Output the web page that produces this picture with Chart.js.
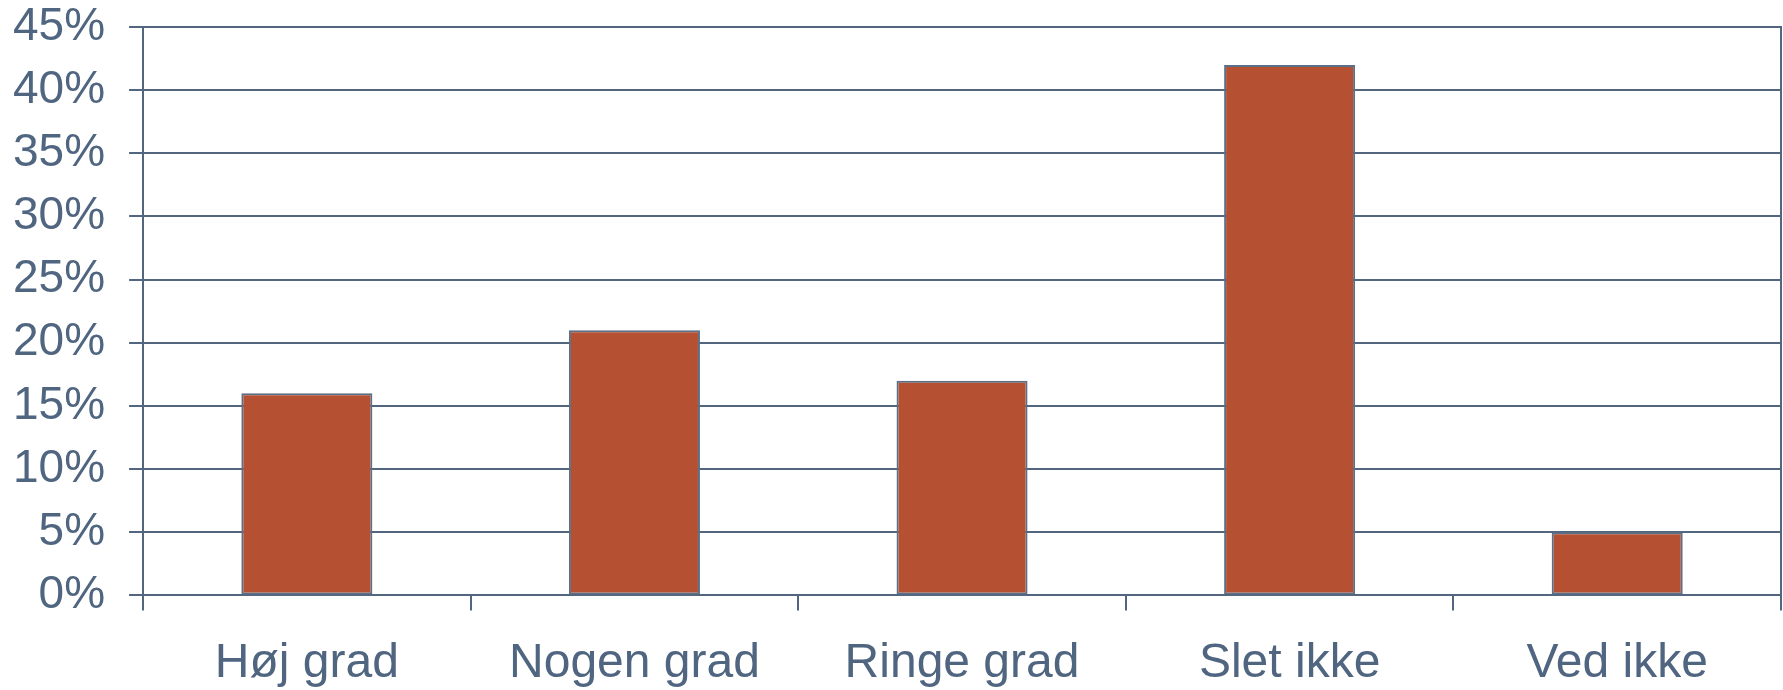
<!DOCTYPE html>
<html>
<head>
<meta charset="utf-8">
<style>
  html, body { margin: 0; padding: 0; background: #ffffff; }
  #wrap { width: 1783px; height: 690px; }
</style>
<script src="https://cdn.jsdelivr.net/npm/chart.js@4/dist/chart.umd.min.js"></script>
</head>
<body>
<div id="wrap"><canvas id="c" width="1783" height="690"></canvas></div>
<script>
// Svarfordeling i procent
const categories = ['Høj grad', 'Nogen grad', 'Ringe grad', 'Slet ikke', 'Ved ikke'];
const shares = [16, 21, 17, 42, 5];
const yTicks = [0, 5, 10, 15, 20, 25, 30, 35, 40, 45];

const lineColor = '#52677f';
const textColor = '#4f6580';
const barColor = '#b65032';
const family = '"Liberation Sans", Arial, sans-serif';

// let the plot area reach the top edge; the outer labels may overhang
const noVerticalOverhang = (scale) => { scale.paddingTop = 0; scale.paddingBottom = 0; };

new Chart(document.getElementById('c'), {
  type: 'bar',
  data: {
    labels: categories,
    datasets: [{
      data: shares,
      backgroundColor: barColor,
      borderColor: '#5b6f86',
      borderWidth: 2,
      borderSkipped: false,
      barPercentage: 0.4,
      categoryPercentage: 1.0
    }]
  },
  options: {
    responsive: false,
    animation: false,
    layout: { padding: { left: -11, right: 2, top: 27, bottom: -28 } },
    plugins: { legend: { display: false }, tooltip: { enabled: false } },
    scales: {
      x: {
        offset: true,
        grid: {
          offset: true,
          drawOnChartArea: false,
          drawTicks: true,
          tickLength: 15,
          color: lineColor,
          lineWidth: 2
        },
        border: { display: true, color: lineColor, width: 2 },
        ticks: { color: textColor, font: { family, size: 48 }, padding: 25, maxRotation: 0 }
      },
      y: {
        min: 0,
        max: 45,
        afterBuildTicks: (scale) => { scale.ticks = yTicks.map(v => ({ value: v })); },
        afterFit: noVerticalOverhang,
        grid: { color: lineColor, lineWidth: 2, tickLength: 14 },
        border: { display: true, color: lineColor, width: 2 },
        ticks: { color: textColor, font: { family, size: 46 }, padding: 24, callback: v => v + '%' }
      },
      yRight: {
        position: 'right',
        min: 0,
        max: 45,
        afterFit: noVerticalOverhang,
        grid: { display: false, drawTicks: false },
        border: { display: true, color: lineColor, width: 2 },
        ticks: { display: false }
      }
    }
  }
});
</script>
</body>
</html>
